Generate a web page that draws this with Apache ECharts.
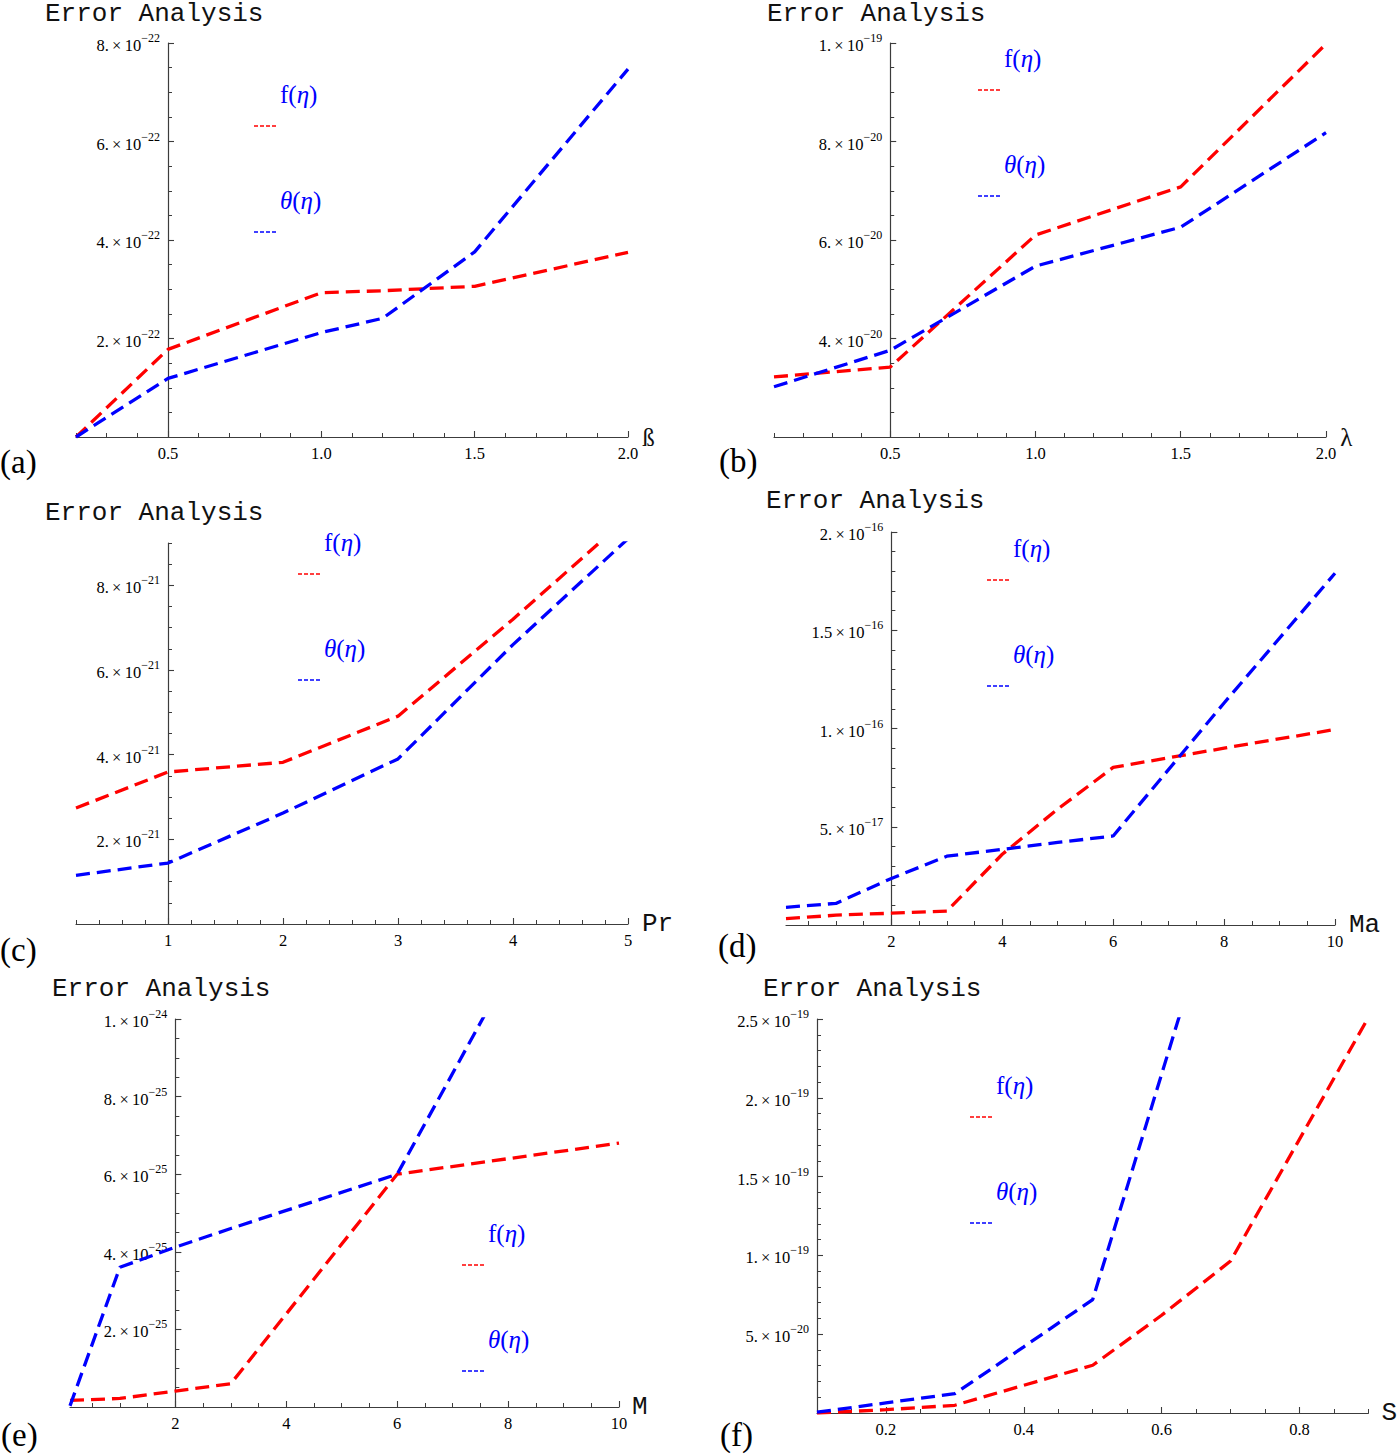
<!DOCTYPE html>
<html><head><meta charset="utf-8">
<script src="https://cdn.jsdelivr.net/npm/echarts@6/dist/echarts.min.js"></script>
<style>html,body{margin:0;padding:0;background:#fff}#c{width:1398px;height:1455px}</style>
</head><body><div id="c"></div>
<script>
// ---------- DATA ----------
// (a) x = ß
const aX = [0.2, 0.5, 1.0, 1.2, 1.5, 2.0];
const aF = [0, 1.78e-22, 2.93e-22, 2.97e-22, 3.06e-22, 3.75e-22];
const aT = [0, 1.19e-22, 2.12e-22, 2.41e-22, 3.76e-22, 7.47e-22];
// (b) x = λ
const bX = [0.1, 0.5, 1.0, 1.5, 2.0];
const bF = [3.22e-20, 3.42e-20, 6.10e-20, 7.08e-20, 9.98e-20];
const bT = [3.02e-20, 3.76e-20, 5.47e-20, 6.26e-20, 8.18e-20];
// (c) x = Pr
const cX = [0.2, 1, 2, 3, 4, 5];
const cF = [2.74e-21, 3.59e-21, 3.82e-21, 4.91e-21, 7.2e-21, 9.6e-21];
const cT = [1.15e-21, 1.44e-21, 2.62e-21, 3.90e-21, 6.6e-21, 9.1e-21];
// (d) x = Ma
const dX = [0.1, 1, 2, 3, 4, 5, 6, 8, 10];
const dF = [0.32e-17, 0.5e-17, 0.6e-17, 0.71e-17, 3.6e-17, 5.9e-17, 8.02e-17, 9.0e-17, 9.95e-17];
const dT = [0.9e-17, 1.1e-17, 2.37e-17, 3.5e-17, 3.85e-17, 4.2e-17, 4.53e-17, 11.3e-17, 17.9e-17];
// (e) x = M
const eX = [0.1, 1, 2, 3, 6, 8, 10];
const eF = [0.17e-25, 0.22e-25, 0.41e-25, 0.60e-25, 6.0e-25, 6.4e-25, 6.8e-25];
const eT = [0.03e-25, 3.6e-25, 4.12e-25, 4.6e-25, 6.0e-25, 11.2e-25, 16.4e-25];
// (f) x = S
const fX = [0.1, 0.2, 0.3, 0.4, 0.5, 0.6, 0.7, 0.9];
const fF = [0, 0.21e-20, 0.49e-20, 1.76e-20, 3.03e-20, 6.2e-20, 9.64e-20, 25.1e-20];
const fT = [0.05e-20, 0.64e-20, 1.23e-20, 4.2e-20, 7.2e-20, 21.5e-20, 35.8e-20, null];

// tick labels
const aXTicks = [0.5, 1.0, 1.5, 2.0];
const aYTicks = [2e-22, 4e-22, 6e-22, 8e-22];
const bXTicks = [0.5, 1.0, 1.5, 2.0];
const bYTicks = [4e-20, 6e-20, 8e-20, 1e-19];
const cXTicks = [1, 2, 3, 4, 5];
const cYTicks = [2e-21, 4e-21, 6e-21, 8e-21];
const dXTicks = [2, 4, 6, 8, 10];
const dYTicks = [5e-17, 1e-16, 1.5e-16, 2e-16];
const eXTicks = [2, 4, 6, 8, 10];
const eYTicks = [2e-25, 4e-25, 6e-25, 8e-25, 1e-24];
const fXTicks = [0.2, 0.4, 0.6, 0.8];
const fYTicks = [5e-20, 1e-19, 1.5e-19, 2e-19, 2.5e-19];

const seriesNames = ['f(η)', 'θ(η)'];
const axisNames = ['ß', 'λ', 'Pr', 'Ma', 'M', 'S'];
const tags = ['(a)', '(b)', '(c)', '(d)', '(e)', '(f)'];
const titleText = 'Error Analysis';

// minor tick positions: integers i..j times a step
function steps(i0, i1, step) { const r = []; for (let i = i0; i <= i1; i++) r.push(+(i * step).toPrecision(10)); return r; }

// ---------- LAYOUT ----------
const panels = [
  { grid: { left: 76, top: 43, width: 552, height: 394 }, xr: [0.2, 2.0], yr: [0, 8e-22], cross: 0.5, dec: 1,
    xs: aX, f: aF, t: aT, xT: aXTicks, yT: aYTicks, xm: steps(2, 20, 0.1), ym: steps(0, 16, 0.5e-22),
    nameFont: 'Liberation Serif', nameSize: 25, nameGap: 14, tag: [0, 462], title: [45, 1], leg: [280, 94] },
  { grid: { left: 774, top: 43, width: 552, height: 394 }, xr: [0.1, 2.0], yr: [2e-20, 1e-19], cross: 0.5, dec: 1,
    xs: bX, f: bF, t: bT, xT: bXTicks, yT: bYTicks, xm: steps(1, 20, 0.1), ym: steps(4, 20, 0.5e-20),
    nameFont: 'Liberation Serif', nameSize: 25, nameGap: 13, tag: [719, 461], title: [767, 1], leg: [1004, 58] },
  { grid: { left: 76, top: 543, width: 552, height: 381 }, xr: [0.2, 5], yr: [0, 9e-21], cross: 1, dec: 0,
    xs: cX, f: cF, t: cT, xT: cXTicks, yT: cYTicks, xm: steps(1, 25, 0.2), ym: steps(0, 18, 0.5e-21),
    nameFont: 'Liberation Mono', nameSize: 26, nameGap: 14, tag: [0, 950], title: [45, 500], leg: [324, 542] },
  { grid: { left: 786, top: 532, width: 549, height: 393 }, xr: [0.1, 10], yr: [0, 2e-16], cross: 2, dec: 0,
    xs: dX, f: dF, t: dT, xT: dXTicks, yT: dYTicks, xm: steps(1, 20, 0.5), ym: steps(0, 20, 1e-17),
    nameFont: 'Liberation Mono', nameSize: 26, nameGap: 14, tag: [718, 946], title: [766, 488], leg: [1013, 548] },
  { grid: { left: 70, top: 1019, width: 549, height: 388 }, xr: [0.1, 10], yr: [0, 1e-24], cross: 2, dec: 0,
    xs: eX, f: eF, t: eT, xT: eXTicks, yT: eYTicks, xm: steps(1, 20, 0.5), ym: steps(0, 20, 0.5e-25),
    nameFont: 'Liberation Mono', nameSize: 26, nameGap: 13, tag: [1, 1435], title: [52, 976], leg: [488, 1233] },
  { grid: { left: 817, top: 1019, width: 556, height: 394 }, xr: [0.1, 0.9], yr: [0, 2.5e-19], cross: 0.1, dec: 1,
    xs: fX, f: fF, t: fT, xT: fXTicks, yT: fYTicks, xm: steps(2, 18, 0.05), ym: steps(0, 25, 1e-20),
    nameFont: 'Liberation Mono', nameSize: 26, nameGap: 13, tag: [720, 1435], title: [763, 976], leg: [996, 1085] }
];

const AX = '#3c3c3c';
const SERIF = 'Liberation Serif';

function sci(v) {
  if (!v) return '';
  const e = Math.floor(Math.log10(v) + 1e-9);
  const m = Math.round(v / Math.pow(10, e) * 10) / 10;
  const ms = (Math.abs(m - Math.round(m)) < 1e-9) ? Math.round(m) + '.' : String(m);
  return '{m|' + ms + '\u2009×\u200910}{s|\u2212' + (-e) + '}';
}

const option = {
  animation: false,
  backgroundColor: '#fff',
  title: [], grid: [], xAxis: [], yAxis: [], series: [], graphic: []
};

panels.forEach((p, i) => {
  option.grid.push(Object.assign({ containLabel: false }, p.grid));
  option.title.push({
    text: titleText, left: p.title[0], top: p.title[1], padding: 0,
    textStyle: { fontFamily: 'Liberation Mono', fontSize: 26, fontWeight: 'normal', color: '#111' }
  });
  const yOff = -p.grid.width * (p.cross - p.xr[0]) / (p.xr[1] - p.xr[0]);
  // major x axis
  option.xAxis.push({
    gridIndex: i, type: 'value', min: p.xr[0], max: p.xr[1], position: 'bottom',
    axisLine: { show: true, onZero: false, lineStyle: { color: AX, width: 1.2 } },
    axisTick: { show: true, inside: true, length: 6, customValues: p.xT, lineStyle: { color: AX, width: 1.1 } },
    axisLabel: { show: true, customValues: p.xT, margin: 8, fontFamily: SERIF, fontSize: 16.5, color: '#000',
      formatter: v => (+v).toFixed(p.dec) },
    splitLine: { show: false },
    name: axisNames[i], nameLocation: 'end', nameGap: p.nameGap,
    nameTextStyle: { fontFamily: p.nameFont, fontSize: p.nameSize, color: '#111', verticalAlign: 'middle', align: 'left' }
  });
  // minor x ticks
  option.xAxis.push({
    gridIndex: i, type: 'value', min: p.xr[0], max: p.xr[1], position: 'bottom',
    axisLine: { show: false, onZero: false },
    axisTick: { show: true, inside: true, length: 4, customValues: p.xm, lineStyle: { color: AX, width: 1 } },
    axisLabel: { show: false }, splitLine: { show: false }
  });
  // major y axis
  option.yAxis.push({
    gridIndex: i, type: 'value', min: p.yr[0], max: p.yr[1], position: 'left', offset: yOff,
    axisLine: { show: true, onZero: false, lineStyle: { color: AX, width: 1.2 } },
    axisTick: { show: true, inside: true, length: 6, customValues: p.yT, lineStyle: { color: AX, width: 1.1 } },
    axisLabel: { show: true, customValues: p.yT, margin: 8, formatter: sci,
      rich: {
        m: { fontFamily: SERIF, fontSize: 16.5, color: '#000', lineHeight: 22, verticalAlign: 'bottom' },
        s: { fontFamily: SERIF, fontSize: 12, color: '#000', lineHeight: 11, verticalAlign: 'top' }
      } },
    splitLine: { show: false }
  });
  // minor y ticks
  option.yAxis.push({
    gridIndex: i, type: 'value', min: p.yr[0], max: p.yr[1], position: 'left', offset: yOff,
    axisLine: { show: false, onZero: false },
    axisTick: { show: true, inside: true, length: 4, customValues: p.ym, lineStyle: { color: AX, width: 1 } },
    axisLabel: { show: false }, splitLine: { show: false }
  });
  const mk = (ys) => p.xs.map((x, k) => [x, ys[k]]).filter(d => d[1] !== null && d[1] !== undefined);
  [[p.f, '#ff0000'], [p.t, '#0000ff']].forEach((s, k) => {
    option.series.push({
      type: 'line', name: seriesNames[k], xAxisIndex: 2 * i, yAxisIndex: 2 * i,
      data: mk(s[0]), symbol: 'none', clip: true, z: 3 + k,
      lineStyle: { color: s[1], width: 3.3, type: [14, 7], cap: 'butt' },
      itemStyle: { color: s[1] }
    });
  });
  // panel tag
  option.graphic.push({
    type: 'text', x: p.tag[0], y: p.tag[1],
    style: { text: tags[i], font: '33px "Liberation Serif"', fill: '#000', textAlign: 'left', textVerticalAlign: 'middle', align: 'left', verticalAlign: 'middle' }
  });
  // legend (text above, short dashed key below-left)
  const lx = p.leg[0], ly = p.leg[1];
  const richL = {
    u: { fontFamily: SERIF, fontSize: 25, fill: '#0000ff', fontStyle: 'normal' },
    i: { fontFamily: SERIF, fontSize: 25, fill: '#0000ff', fontStyle: 'italic' }
  };
  [['{u|f(}{i|η}{u|)}', '#ff0000', 0], ['{i|θ}{u|(}{i|η}{u|)}', '#0000ff', 106]].forEach(L => {
    option.graphic.push({
      type: 'text', x: lx, y: ly + L[2],
      style: { text: L[0], rich: richL, fill: '#0000ff', font: '25px "Liberation Serif"', textAlign: 'left', textVerticalAlign: 'middle', align: 'left', verticalAlign: 'middle' }
    });
    option.graphic.push({
      type: 'line', shape: { x1: lx - 26, y1: ly + L[2] + 32, x2: lx - 4, y2: ly + L[2] + 32 },
      style: { stroke: L[1], lineWidth: 1.4, lineDash: [4, 2] }
    });
  });
});

const chart = echarts.init(document.getElementById('c'), null, { renderer: 'svg', width: 1398, height: 1455 });
chart.setOption(option);
</script>
</body></html>
